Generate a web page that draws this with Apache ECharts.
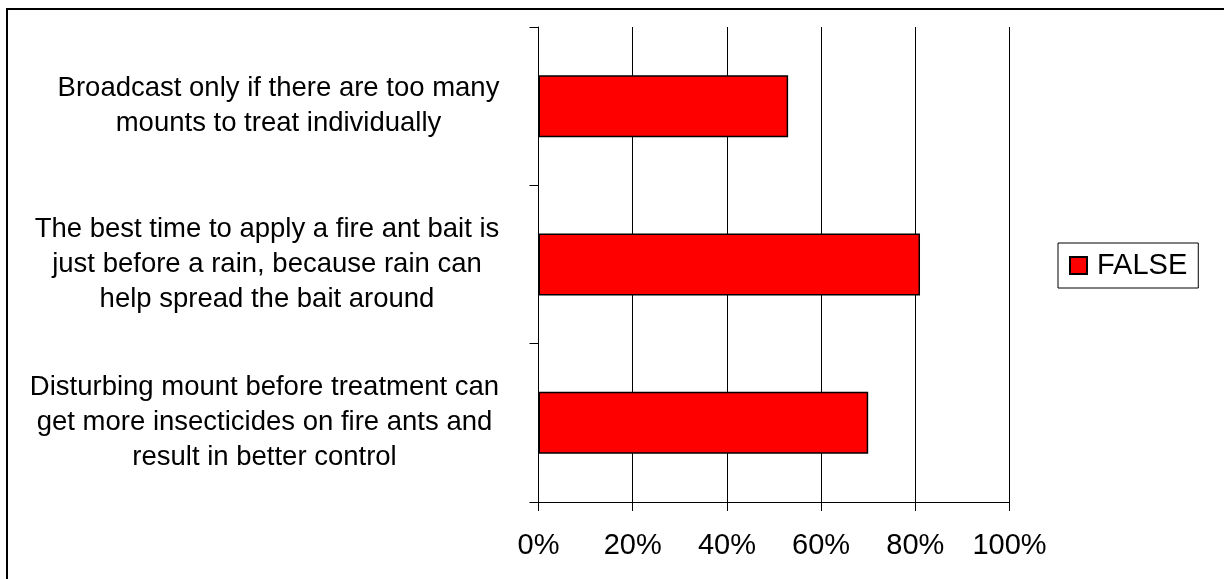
<!DOCTYPE html>
<html>
<head>
<meta charset="utf-8">
<script src="https://cdn.jsdelivr.net/npm/echarts@6/dist/echarts.min.js"></script>
<style>
  html, body { margin: 0; padding: 0; background: #fff; }
  #chart { width: 1224px; height: 579px; }
</style>
</head>
<body>
<div id="chart"></div>
<script>
// Survey statements (top to bottom) and share of "FALSE" answers, in percent
const categories = [
  'Broadcast only if there are too many\nmounts to treat individually',
  'The best time to apply a fire ant bait is\njust before a rain, because rain can\nhelp spread the bait around',
  'Disturbing mount before treatment can\nget more insecticides on fire ants and\nresult in better control'
];
const falseShare = [53, 81, 70];
const seriesName = 'FALSE';

const FONT = '"Liberation Sans", Arial, Helvetica, sans-serif';
const CAT_SIZE = 27.5;
const CAT_LINE = 35;

// Measure the widest line of each label so its lines can be centred as a block
const ctx = document.createElement('canvas').getContext('2d');
ctx.font = CAT_SIZE + 'px ' + FONT;
const rich = {};
categories.forEach((c, i) => {
  const w = Math.max(...c.split('\n').map(l => ctx.measureText(l).width));
  rich['c' + i] = {
    width: Math.ceil(w), align: 'center',
    fontSize: CAT_SIZE, lineHeight: CAT_LINE, fontFamily: FONT, color: '#000'
  };
});

const chart = echarts.init(document.getElementById('chart'), null, { renderer: 'canvas' });
chart.setOption({
  animation: false,
  backgroundColor: '#fff',
  graphic: [{
    type: 'rect',
    shape: { x: 7, y: 9, width: 1400, height: 800 },
    style: { fill: 'none', stroke: '#000', lineWidth: 2 },
    silent: true
  }],
  grid: { left: 538.5, right: 214.5, top: 27, bottom: 77, containLabel: false },
  legend: {
    data: [seriesName],
    left: 1058, top: 243,
    orient: 'vertical',
    padding: [8, 11, 8, 11],
    borderColor: '#000', borderWidth: 1,
    itemWidth: 17, itemHeight: 17,
    icon: 'rect',
    textStyle: { fontSize: 29, fontFamily: FONT, color: '#000', padding: [0, 0, 0, 5], lineHeight: 29 }
  },
  xAxis: {
    type: 'value',
    min: 0, max: 100, interval: 20,
    axisLine: { show: true, lineStyle: { color: '#000', width: 1 } },
    axisTick: { show: true, length: 9, lineStyle: { color: '#000' } },
    axisLabel: { formatter: '{value}%', fontSize: 29, fontFamily: FONT, color: '#000', margin: 29 },
    splitLine: { show: true, lineStyle: { color: '#000', width: 1 } }
  },
  yAxis: {
    type: 'category',
    data: categories,
    inverse: true,
    axisLine: { show: true, lineStyle: { color: '#000', width: 1 } },
    axisTick: { show: true, length: 9, lineStyle: { color: '#000' } },
    axisLabel: {
      interval: 0,
      align: 'right',
      margin: 39,
      formatter: (value, index) => value.split('\n').map(l => '{c' + index + '|' + l + '}').join('\n'),
      rich: rich
    },
    splitLine: { show: false }
  },
  series: [{
    name: seriesName,
    type: 'bar',
    data: falseShare,
    barWidth: 62,
    itemStyle: { color: '#ff0000', borderColor: '#000', borderWidth: 1.5 }
  }]
});
</script>
</body>
</html>
